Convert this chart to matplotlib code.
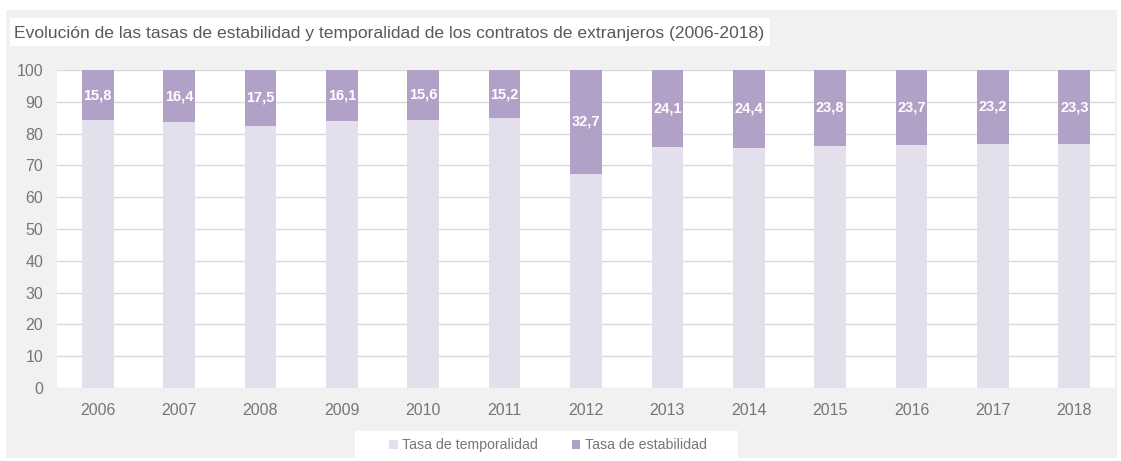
import matplotlib.pyplot as plt
from matplotlib.patches import Rectangle
import numpy as np

# datos
anios = ['2006', '2007', '2008', '2009', '2010', '2011', '2012',
         '2013', '2014', '2015', '2016', '2017', '2018']
estabilidad = [15.8, 16.4, 17.5, 16.1, 15.6, 15.2, 32.7,
               24.1, 24.4, 23.8, 23.7, 23.2, 23.3]
temporalidad = [round(100 - e, 1) for e in estabilidad]

cor_temp = '#e4dfec'
cor_estab = '#b2a1c7'
cor_texto = '#595959'
cor_ejes = '#767676'

plt.rcParams['font.family'] = ['Liberation Sans', 'DejaVu Sans']

W, H = 1121, 461
fig = plt.figure(figsize=(W / 100, H / 100), dpi=100, facecolor='white')

# fondo gris del panel
fig.patches.append(Rectangle((6 / W, 1 - 458 / H), 1111 / W, 448 / H,
                             transform=fig.transFigure, facecolor='#f1f1f1',
                             edgecolor='none', zorder=-2))
# caja blanca del titulo
fig.patches.append(Rectangle((10 / W, 1 - 46 / H), 760 / W, 28 / H,
                             transform=fig.transFigure, facecolor='white',
                             edgecolor='none', zorder=-1))
fig.text(14 / W, 1 - 33 / H,
         'Evolución de las tasas de estabilidad y temporalidad de los contratos de extranjeros (2006-2018)',
         fontsize=12.6, color=cor_texto, va='center', ha='left')

ax = fig.add_axes([57 / W, 1 - 388 / H, 1058 / W, 318 / H])
ax.set_facecolor('white')

x = np.arange(len(anios))
ancho = 0.39
b1 = ax.bar(x, temporalidad, width=ancho, color=cor_temp, label='Tasa de temporalidad', zorder=2)
b2 = ax.bar(x, estabilidad, width=ancho, bottom=temporalidad, color=cor_estab,
            label='Tasa de estabilidad', zorder=2)

# etiquetas de valor en el segmento de estabilidad
for xi, t, e in zip(x, temporalidad, estabilidad):
    ax.text(xi, t + e / 2, f'{e:.1f}'.replace('.', ','), ha='center', va='center',
            color='white', fontsize=10.5, fontweight='bold', zorder=3)

ax.set_xlim(-0.5, len(anios) - 0.5)
ax.set_ylim(0, 100)
ax.set_yticks(np.arange(0, 101, 10))
ax.set_xticks(x)
ax.set_xticklabels(anios)
ax.yaxis.grid(True, color='#d9d9d9', linewidth=1, zorder=0)
ax.set_axisbelow(True)
for s in ax.spines.values():
    s.set_visible(False)
ax.tick_params(axis='both', length=0, labelsize=11.5, colors=cor_ejes)
ax.tick_params(axis='x', pad=11)
ax.tick_params(axis='y', pad=10)

# leyenda sobre caja blanca
fig.patches.append(Rectangle((355 / W, 1 - 458 / H), 383 / W, 27 / H,
                             transform=fig.transFigure, facecolor='white',
                             edgecolor='none', zorder=-1))
leg = fig.legend(handles=[b1, b2], loc='center', bbox_to_anchor=(548 / W, 1 - 445 / H),
                 ncol=2, frameon=False, fontsize=10.2, handlelength=0.6, handleheight=0.6,
                 handletextpad=0.3, columnspacing=2.4)
for t in leg.get_texts():
    t.set_color(cor_ejes)

fig.savefig('out.png', dpi=100, facecolor='white')
